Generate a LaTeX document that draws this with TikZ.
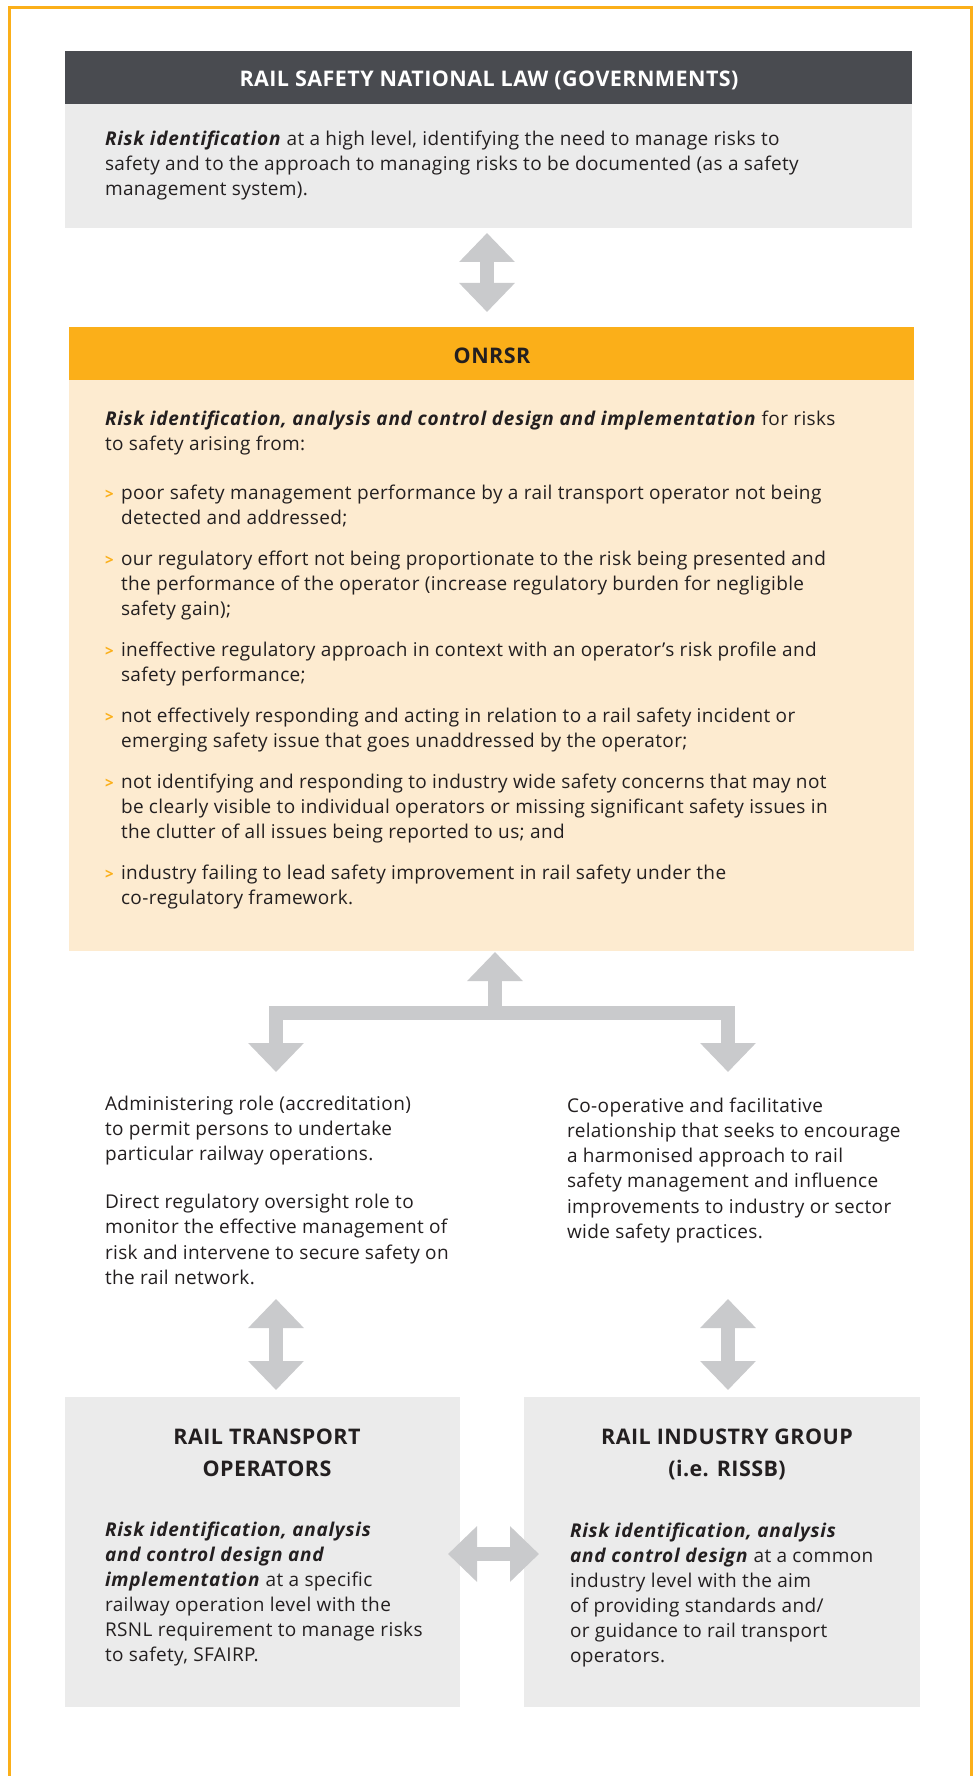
\documentclass[tikz,border=0pt]{standalone}
\usepackage{fontspec}
\setmainfont{Open Sans}[LetterSpace=2, BoldItalicFeatures={LetterSpace=4}]
\usetikzlibrary{arrows.meta}

\definecolor{inkdark}{RGB}{35,31,32}
\definecolor{hdrdark}{RGB}{73,75,80}
\definecolor{boxgray}{RGB}{235,235,235}
\definecolor{onrsrorange}{RGB}{251,175,25}
\definecolor{paleorange}{RGB}{253,235,208}
\definecolor{arrowgray}{RGB}{201,202,204}

% body text settings used by every paragraph block
\newcommand{\bodyfont}{\fontsize{19}{25}\selectfont}
\newcommand{\titlefont}{\bfseries\fontsize{21.5}{32}\selectfont}
\newcommand{\bulmark}{\makebox[16pt][l]{\color{onrsrorange}\bfseries\fontsize{15}{15}\selectfont >}}
\newcommand{\bulitem}{\par\vspace{16pt}\noindent\hangindent=16pt\hangafter=1\bulmark}
\newcommand{\bi}[1]{\textbf{\textit{#1}}}

\begin{document}
\begin{tikzpicture}[x=1pt,y=-1pt,
  panel/.style={fill=#1, draw=none, inner sep=0pt, outer sep=0pt, anchor=north west},
  txt/.style={inner sep=0pt, outer sep=0pt, anchor=base west, text=inkdark, font=\bodyfont},
  ttl/.style={inner sep=0pt, outer sep=0pt, anchor=base, font=\titlefont},
  garrow/.style={draw=arrowgray, line width=14pt, line join=miter},
  dbl/.style={arrows={Triangle[length=29pt 0 0,width=54pt 0 0]-Triangle[length=29pt 0 0,width=54pt 0 0]}},
  sgl/.style={arrows={-Triangle[length=29pt 0 0,width=54pt 0 0]}}]

\useasboundingbox (0,0) rectangle (976,1776);
\fill[white] (0,0) rectangle (976,1776);

% outer frame, open at the bottom
\draw[onrsrorange, line width=3pt] (9.5,1776) -- (9.5,8) -- (971.5,8) -- (971.5,1776);

% ---------- Rail Safety National Law ----------
\node[panel=hdrdark, minimum width=847pt, minimum height=53pt] (lawhead) at (65,51) {};
\node[panel=boxgray, minimum width=847pt, minimum height=124pt] (lawbody) at (65,104) {};
\node[ttl, text=white] (lawtitle) at (489,87) {RAIL SAFETY NATIONAL LAW (GOVERNMENTS)};
\node[txt] (lawtext) at (105,146) {\parbox[t]{860pt}{\parindent=0pt\bodyfont
\bi{Risk identification} at a high level, identifying the need to manage risks to\\
safety and to the approach to managing risks to be documented (as a safety\\
management system).}};

% ---------- ONRSR ----------
\node[panel=onrsrorange, minimum width=845pt, minimum height=53pt] (onrsrhead) at (69,327) {};
\node[panel=paleorange, minimum width=845pt, minimum height=571pt] (onrsrbody) at (69,380) {};
\node[ttl, text=inkdark] (onrsrtitle) at (492,363) {ONRSR};
\node[txt] (onrsrtext) at (105,425) {\parbox[t]{860pt}{\parindent=0pt\bodyfont
\bi{Risk identification, analysis and control design and implementation} for risks\\
to safety arising from:\par\vspace{8pt}
\bulitem poor safety management performance by a rail transport operator not being\\
detected and addressed;
\bulitem our regulatory effort not being proportionate to the risk being presented and\\
the performance of the operator (increase regulatory burden for negligible\\
safety gain);
\bulitem ineffective regulatory approach in context with an operator’s risk profile and\\
safety performance;
\bulitem not effectively responding and acting in relation to a rail safety incident or\\
emerging safety issue that goes unaddressed by the operator;
\bulitem not identifying and responding to industry wide safety concerns that may not\\
be clearly visible to individual operators or missing significant safety issues in\\
the clutter of all issues being reported to us; and
\bulitem industry failing to lead safety improvement in rail safety under the\\
co-regulatory framework.\par}};

% ---------- regulatory roles ----------
\node[txt] (roleleft) at (105,1110) {\parbox[t]{420pt}{\parindent=0pt\fontsize{19}{25.3}\selectfont
Administering role (accreditation)\\
to permit persons to undertake\\
particular railway operations.\par\vspace{22.5pt}
Direct regulatory oversight role to\\
monitor the effective management of\\
risk and intervene to secure safety on\\
the rail network.\par}};
\node[txt] (roleright) at (567,1112) {\parbox[t]{420pt}{\parindent=0pt\fontsize{19}{25.3}\selectfont
Co-operative and facilitative\\
relationship that seeks to encourage\\
a harmonised approach to rail\\
safety management and influence\\
improvements to industry or sector\\
wide safety practices.\par}};

% ---------- operators and industry group ----------
\node[panel=boxgray, minimum width=395pt, minimum height=310pt] (rtobox) at (65,1397) {};
\node[panel=boxgray, minimum width=396pt, minimum height=310pt] (rigbox) at (524,1397) {};
\node[ttl, text=inkdark] (rtotitle) at (267,1444) {\parbox[t]{380pt}{\centering\titlefont RAIL TRANSPORT\\OPERATORS}};
\node[ttl, text=inkdark] (rigtitle) at (727,1444) {\parbox[t]{380pt}{\centering\titlefont RAIL INDUSTRY GROUP\\(i.e. RISSB)}};
\node[txt] (rtotext) at (105,1536) {\parbox[t]{420pt}{\parindent=0pt\bodyfont
\bi{Risk identification, analysis}\\
\bi{and control design and}\\
\bi{implementation} at a specific\\
railway operation level with the\\
RSNL requirement to manage risks\\
to safety, SFAIRP.\par}};
\node[txt] (rigtext) at (570,1537) {\parbox[t]{420pt}{\parindent=0pt\bodyfont
\bi{Risk identification, analysis}\\
\bi{and control design} at a common\\
industry level with the aim\\
of providing standards and/\\
or guidance to rail transport\\
operators.\par}};

% ---------- block arrows ----------
\coordinate (lawtip) at (487,233);
\coordinate (onrsrtip) at (487,312);
\draw[garrow, dbl] (lawtip) -- (onrsrtip);

\coordinate (uptip) at (495,952);
\coordinate (junction) at (495,1013);
\coordinate (lefttip) at (276,1072);
\coordinate (righttip) at (728,1072);
\draw[garrow, sgl] (junction) -- (uptip);
\draw[garrow, dbl] (lefttip) -- (lefttip |- junction) -- (righttip |- junction) -- (righttip);

\coordinate (roleltip) at (276,1299);
\coordinate (rtotip) at (276,1390);
\coordinate (rolertip) at (728,1299);
\coordinate (rigtip) at (728,1390);
\draw[garrow, dbl] (roleltip) -- (rtotip);
\draw[garrow, dbl] (rolertip) -- (rigtip);

\coordinate (rtoside) at (448,1554);
\coordinate (rigside) at (539,1554);
\draw[garrow, dbl] (rtoside) -- (rigside);

\end{tikzpicture}
\end{document}
